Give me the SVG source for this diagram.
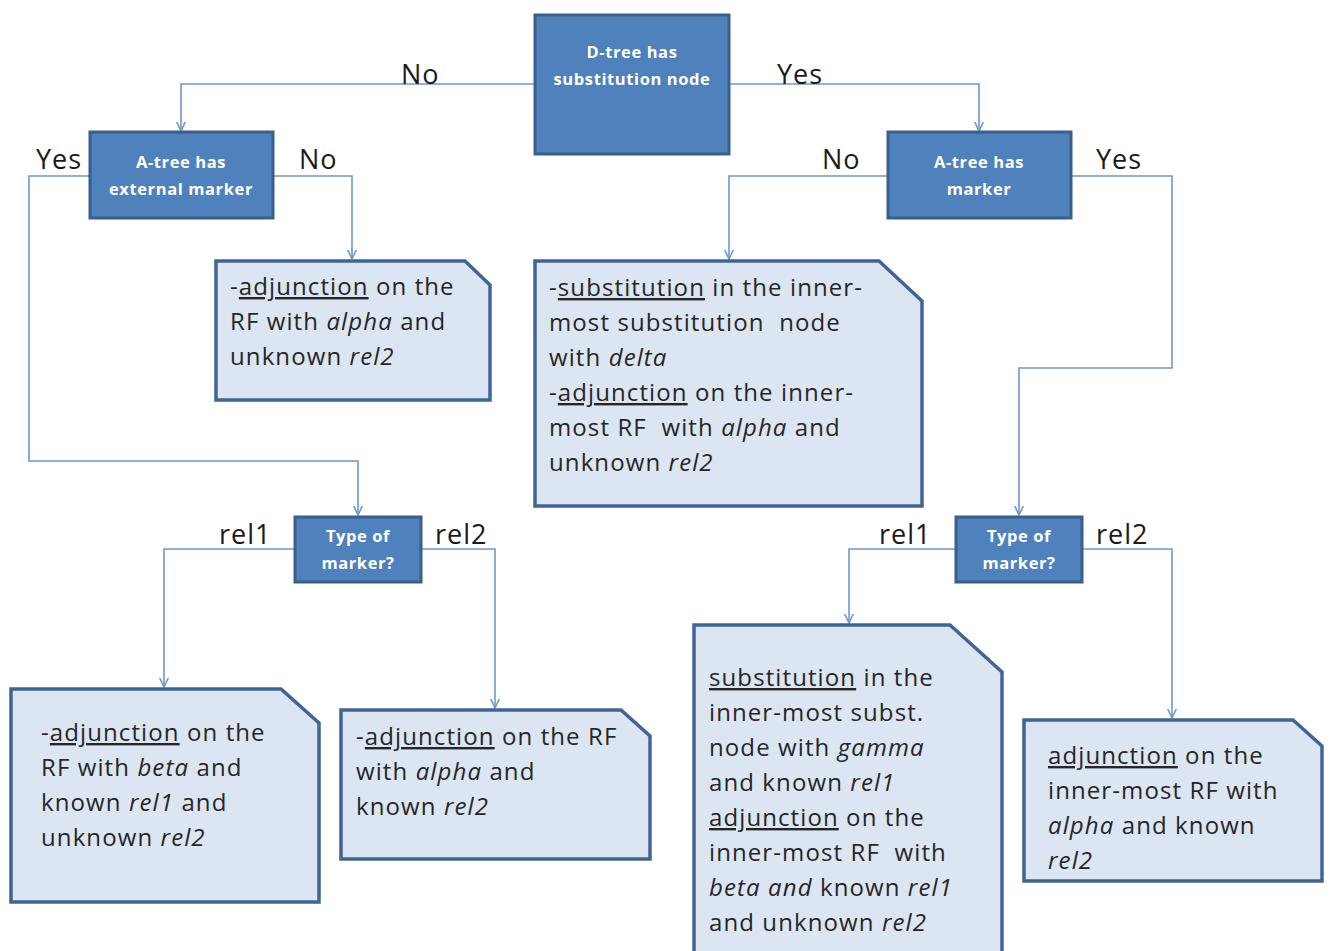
<svg xmlns="http://www.w3.org/2000/svg" width="1330" height="951" viewBox="0 0 1330 951">
  <style>
    .dec rect { fill: #4f81bd; stroke: #3a5f8c; stroke-width: 3; }
    .dec text { fill: #ffffff; font-family: "Open Sans", "Liberation Sans", sans-serif; font-weight: bold; font-size: 16.5px; text-anchor: middle; letter-spacing: 0.6px; }
    .act path { fill: #dce6f2; stroke: #3f6595; stroke-width: 3.5; stroke-linejoin: miter; }
    .act text { fill: #262626; font-family: "Open Sans", "Liberation Sans", sans-serif; font-size: 24px; letter-spacing: 1.1px; white-space: pre; }
    .u { text-decoration: underline; }
    .i { font-style: italic; }
    .conn path { fill: none; stroke: #6f98cd; stroke-width: 1.6; }
    .lbl { fill: #1a1a1a; font-family: "Open Sans", "Liberation Sans", sans-serif; font-size: 27px; letter-spacing: 1px; }
  </style>
  <defs>
    <marker id="arrow" viewBox="0 0 10 10" refX="9.5" refY="5" markerWidth="10" markerHeight="10" markerUnits="userSpaceOnUse" orient="auto">
      <path d="M0,0.5 L9.5,5 L0,9.5" fill="none" stroke="#6f98cd" stroke-width="1.6"/>
    </marker>
  </defs>
  <rect width="1330" height="951" fill="#ffffff"/>

  <!-- connectors -->
  <g id="connectors" class="conn">
    <path d="M535,84 H181 V131" marker-end="url(#arrow)"/>
    <path d="M729,84 H979 V131" marker-end="url(#arrow)"/>
    <path d="M273,176 H352 V259" marker-end="url(#arrow)"/>
    <path d="M90,176 H29 V461 H358 V515" marker-end="url(#arrow)"/>
    <path d="M888,176 H729 V259" marker-end="url(#arrow)"/>
    <path d="M1071,176 H1172 V368 H1019 V515" marker-end="url(#arrow)"/>
    <path d="M295,549 H164 V687" marker-end="url(#arrow)"/>
    <path d="M421,549 H495 V708" marker-end="url(#arrow)"/>
    <path d="M956,549 H849 V623" marker-end="url(#arrow)"/>
    <path d="M1082,549 H1172 V718" marker-end="url(#arrow)"/>
  </g>

  <!-- branch labels -->
  <g id="labels">
    <text class="lbl" x="401" y="84">No</text>
    <text class="lbl" x="777" y="84">Yes</text>
    <text class="lbl" x="36" y="169">Yes</text>
    <text class="lbl" x="299" y="169">No</text>
    <text class="lbl" x="822" y="169">No</text>
    <text class="lbl" x="1096" y="169">Yes</text>
    <text class="lbl" x="219" y="544">rel1</text>
    <text class="lbl" x="435" y="544">rel2</text>
    <text class="lbl" x="879" y="544">rel1</text>
    <text class="lbl" x="1096" y="544">rel2</text>
  </g>

  <!-- decision nodes -->
  <g id="d-tree" class="dec">
    <rect x="535" y="15" width="194" height="139"/>
    <text x="632" y="58">D-tree has</text>
    <text x="632" y="85">substitution node</text>
  </g>
  <g id="a-tree-external" class="dec">
    <rect x="90" y="132" width="183" height="86"/>
    <text x="181" y="168">A-tree has</text>
    <text x="181" y="195">external marker</text>
  </g>
  <g id="a-tree-marker" class="dec">
    <rect x="888" y="132" width="183" height="86"/>
    <text x="979" y="168">A-tree has</text>
    <text x="979" y="195">marker</text>
  </g>
  <g id="type-left" class="dec">
    <rect x="295" y="517" width="126" height="65"/>
    <text x="358" y="542">Type of</text>
    <text x="358" y="569">marker?</text>
  </g>
  <g id="type-right" class="dec">
    <rect x="956" y="517" width="126" height="65"/>
    <text x="1019" y="542">Type of</text>
    <text x="1019" y="569">marker?</text>
  </g>

  <!-- outcome nodes -->
  <g id="adj-alpha" class="act">
    <path d="M216,261 H465 L490,285 V400 H216 Z"/>
    <text x="230" y="295">-<tspan class="u">adjunction</tspan> on the</text>
    <text x="230" y="330">RF with <tspan class="i">alpha</tspan> and</text>
    <text x="230" y="365">unknown <tspan class="i">rel2</tspan></text>
  </g>
  <g id="subst-delta" class="act">
    <path d="M535,261 H879 L922,301 V506 H535 Z"/>
    <text x="549" y="296">-<tspan class="u">substitution</tspan> in the inner-</text>
    <text x="549" y="331">most substitution  node</text>
    <text x="549" y="366">with <tspan class="i">delta</tspan></text>
    <text x="549" y="401">-<tspan class="u">adjunction</tspan> on the inner-</text>
    <text x="549" y="436">most RF  with <tspan class="i">alpha</tspan> and</text>
    <text x="549" y="471">unknown <tspan class="i">rel2</tspan></text>
  </g>
  <g id="adj-beta" class="act">
    <path d="M11,689 H281 L319,723 V902 H11 Z"/>
    <text x="41" y="741">-<tspan class="u">adjunction</tspan> on the</text>
    <text x="41" y="776">RF with <tspan class="i">beta</tspan> and</text>
    <text x="41" y="811">known <tspan class="i">rel1</tspan> and</text>
    <text x="41" y="846">unknown <tspan class="i">rel2</tspan></text>
  </g>
  <g id="adj-alpha-known" class="act">
    <path d="M341,710 H621 L650,736 V859 H341 Z"/>
    <text x="356" y="745">-<tspan class="u">adjunction</tspan> on the RF</text>
    <text x="356" y="780">with <tspan class="i">alpha</tspan> and</text>
    <text x="356" y="815">known <tspan class="i">rel2</tspan></text>
  </g>
  <g id="subst-gamma" class="act">
    <path d="M694,625 H950 L1002,672 V960 H694 Z"/>
    <text x="709" y="686"><tspan class="u">substitution</tspan> in the</text>
    <text x="709" y="721">inner-most subst.</text>
    <text x="709" y="756">node with <tspan class="i">gamma</tspan></text>
    <text x="709" y="791">and known <tspan class="i">rel1</tspan></text>
    <text x="709" y="826"><tspan class="u">adjunction</tspan> on the</text>
    <text x="709" y="861">inner-most RF  with</text>
    <text x="709" y="896"><tspan class="i">beta and</tspan> known <tspan class="i">rel1</tspan></text>
    <text x="709" y="931">and unknown <tspan class="i">rel2</tspan></text>
  </g>
  <g id="adj-inner-alpha" class="act">
    <path d="M1024,720 H1293 L1322,746 V881 H1024 Z"/>
    <text x="1048" y="764"><tspan class="u">adjunction</tspan> on the</text>
    <text x="1048" y="799">inner-most RF with</text>
    <text x="1048" y="834"><tspan class="i">alpha</tspan> and known</text>
    <text x="1048" y="869"><tspan class="i">rel2</tspan></text>
  </g>
</svg>
